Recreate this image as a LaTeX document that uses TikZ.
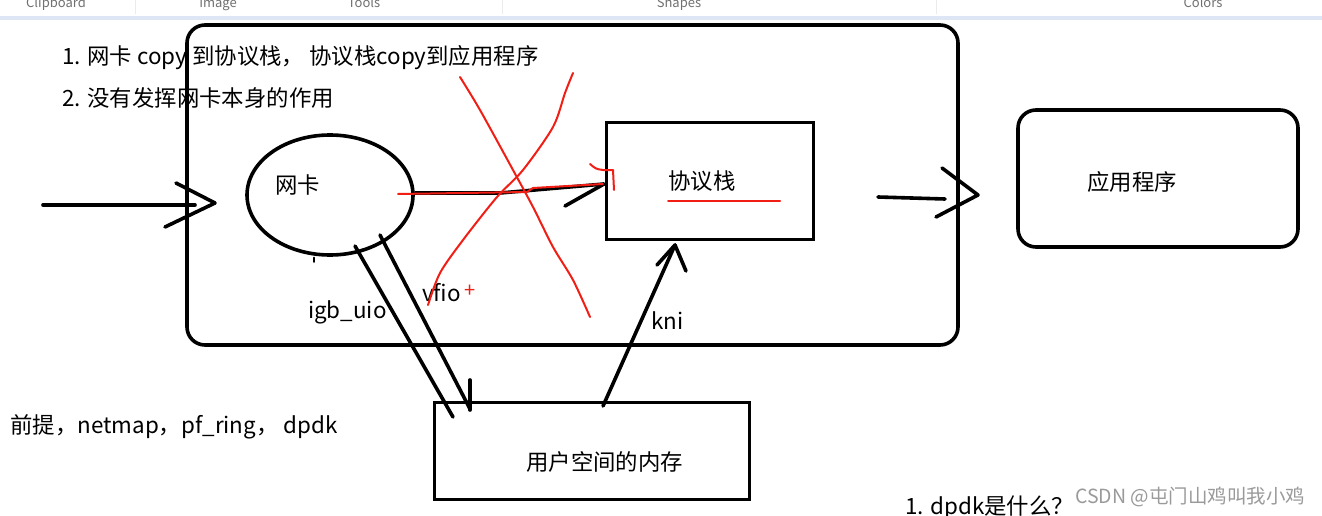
\documentclass[tikz,border=0pt]{standalone}
\usepackage{fontspec}
\setmainfont{Noto Sans CJK SC}
\usetikzlibrary{shapes.geometric}
\definecolor{redpen}{HTML}{F01E14}
\definecolor{toolgray}{HTML}{707070}
\definecolor{bandblue}{HTML}{DCE6F5}
\definecolor{wmgray}{HTML}{9A9A9A}
\tikzset{
  pen/.style={line width=3.6pt, line cap=round, line join=round},
  redline/.style={draw=redpen, line width=2pt, line cap=round, line join=round},
  txt/.style={inner sep=0pt, anchor=west, font=\fontsize{22.4}{26}\selectfont},
  tooltxt/.style={inner sep=0pt, anchor=base, text=toolgray, font=\fontsize{13}{15}\selectfont},
  boxshape/.style={draw, line width=3.6pt, inner sep=0pt},
}
\begin{document}
\begin{tikzpicture}[x=1pt,y=-1pt]
\useasboundingbox (0,0) rectangle (1322,516);
\clip (0,0) rectangle (1322,516);
\fill[white] (0,0) rectangle (1322,516);
% toolbar strip
\fill[bandblue] (0,16.5) rectangle (1322,20.5);
\draw[black!8, line width=0.8pt] (135,0) -- (135,14) (502,0) -- (502,14) (936,0) -- (936,14);
\node[tooltxt] (tb1) at (56,8) {Clipboard};
\node[tooltxt] (tb2) at (218,8) {Image};
\node[tooltxt] (tb3) at (364,8) {Tools};
\node[tooltxt] (tb4) at (679,8) {Shapes};
\node[tooltxt] (tb5) at (1203,8) {Colors};

% big rounded container
\node[boxshape, rounded corners=18pt, minimum width=771pt, minimum height=320pt] (host) at (572.5,185) {};
% NIC ellipse
\node[draw, ellipse, line width=3.6pt, minimum width=166pt, minimum height=120pt, inner sep=0pt] (nic) at (330,195) {};
\node[txt] (nictxt) at (275,185) {网卡};
% small tick under ellipse
\draw[pen, line width=2.5pt] (nic.south) ++(-16,1) coordinate (tk1) -- ++(0,4) coordinate (tk2);
% protocol stack box
\node[boxshape, minimum width=207pt, minimum height=117pt] (stack) at (710,181) {};
\node[txt] (stacktxt) at (668,181) {协议栈};
% application box
\node[boxshape, rounded corners=18pt, minimum width=280pt, minimum height=137pt] (app) at (1158,178.5) {};
\node[txt] (apptxt) at (1087,182) {应用程序};
% user-space memory box
\node[boxshape, minimum width=315pt, minimum height=97pt] (mem) at (592,451) {};
\node[txt] (memtxt) at (526,462) {用户空间的内存};

% texts
\node[txt] (t1) at (62,58) {1. 网卡 copy 到协议栈， 协议栈copy到应用程序};
\node[txt] (t2) at (62,98) {2. 没有发挥网卡本身的作用};
\node[txt] (t3) at (10,427) {前提，netmap，pf\_ring， dpdk};
\node[txt] (t4) at (905,508) {1. dpdk是什么？};
\node[inner sep=0pt, anchor=west, text=wmgray, font=\fontsize{19.5}{22}\selectfont] (wm) at (1075,497) {CSDN @屯门山鸡叫我小鸡};
\node[txt] (igb) at (308,312) {igb\_uio};
\node[txt] (vfio) at (422,293) {vfio};
\node[inner sep=0pt, text=redpen, font=\fontsize{20}{22}\selectfont] (plus) at (470,291) {+};
\node[txt] (kni) at (651,321) {kni};

% input arrow into host
\coordinate (inS) at (43,205);
\coordinate (inT) at (215,203);
\draw[pen] (inS) -- (195,205);
\draw[pen] (176,183) -- (inT) -- (165,227);

% NIC -> stack (black)
\coordinate (nsS) at (415,193);
\coordinate (nsT) at (604,184);
\draw[pen] (nsS) -- (500,193) -- (nsT);
\draw[pen] (565,206) -- (nsT);

% stack -> app
\coordinate (saS) at (878,197);
\coordinate (saT) at (978,195);
\draw[pen] (saS) -- (945,199);
\draw[pen] (942,168) -- (saT) -- (936,217);

% igb_uio double lines
\coordinate (g1S) at (355,246);
\coordinate (g1T) at (453,417);
\coordinate (g2S) at (380,235);
\coordinate (g2T) at (470,409);
\draw[pen] (g1S) -- (g1T);
\draw[pen] (g2S) -- (g2T);
\draw[pen] (470,380) -- (470,410);

% kni arrow
\coordinate (kS) at (603,406);
\coordinate (kT) at (675,245);
\draw[pen] (kS) -- (kT);
\draw[pen] (657,265) -- (kT) -- (686,271);

% red annotations
\draw[redline] (398,194) -- (527,192) -- (533,188) -- (603,184);
\draw[redline] (590,164) .. controls (596,169) .. (603,170) -- (613,170) -- (614,190);
\draw[redline] (668,201) -- (780,201);
\draw[redline] plot[smooth] coordinates {(460,77) (480,110) (513,170) (533,207) (553,247) (573,280) (590,317)};
\draw[redline] plot[smooth] coordinates {(573,73) (565,93) (553,127) (523,170) (497,197) (463,240) (440,273) (428,305)};
\end{tikzpicture}
\end{document}
